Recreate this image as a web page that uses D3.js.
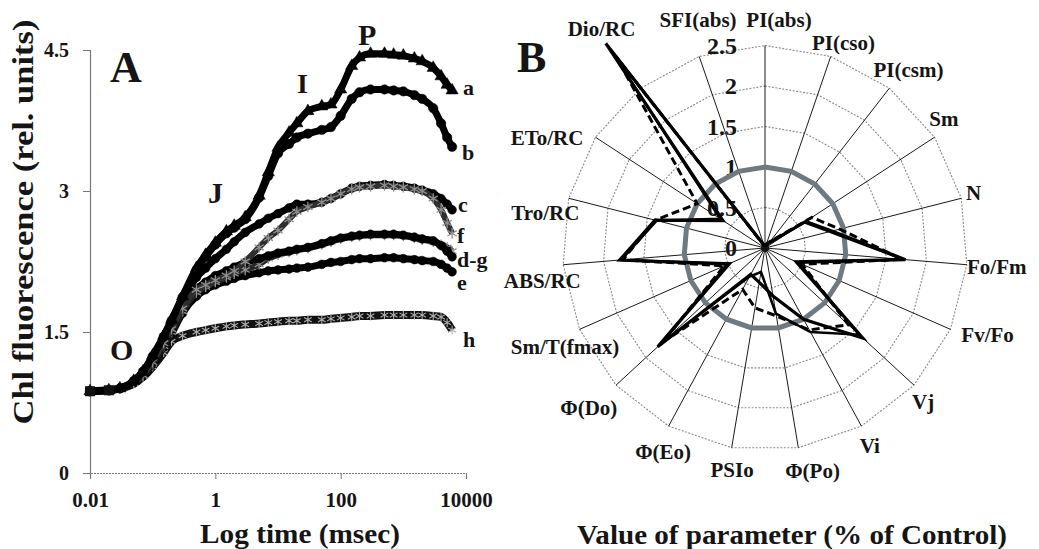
<!DOCTYPE html>
<html><head><meta charset="utf-8">
<script src="https://cdn.jsdelivr.net/npm/d3@7"></script>
</head><body style="margin:0;background:#fff">
<svg id="chart" width="1039" height="549" style="display:block;background:#fff"></svg>
<script>
// ---------- Panel A data (OJIP transients) ----------
const times = [0.01,0.02,0.03,0.05,0.07,0.1,0.15,0.2,0.3,0.5,0.7,1,1.5,2,3,5,7,10,15,20,30,50,70,100,150,200,300,500,700,1000,1500,2000,3000,4000,5000,6000];
const curveA = [0.87,0.88,0.90,0.98,1.08,1.25,1.46,1.63,1.88,2.18,2.32,2.45,2.57,2.63,2.72,2.95,3.20,3.46,3.62,3.72,3.85,3.90,3.92,4.08,4.33,4.42,4.46,4.46,4.45,4.44,4.41,4.38,4.31,4.22,4.13,4.07];
const curveB = [0.87,0.88,0.90,0.98,1.08,1.24,1.45,1.62,1.87,2.16,2.30,2.43,2.55,2.61,2.70,2.93,3.16,3.40,3.50,3.57,3.61,3.65,3.68,3.80,3.98,4.05,4.08,4.08,4.07,4.06,4.02,3.98,3.88,3.72,3.57,3.47];
const curveC = [0.87,0.88,0.90,0.97,1.06,1.22,1.42,1.58,1.83,2.08,2.18,2.28,2.38,2.46,2.56,2.65,2.71,2.76,2.82,2.86,2.86,2.88,2.92,2.97,3.03,3.05,3.06,3.07,3.06,3.05,3.03,3.01,2.97,2.92,2.86,2.80];
const curveD = [0.87,0.88,0.90,0.96,1.04,1.18,1.38,1.53,1.76,1.96,2.03,2.10,2.15,2.19,2.24,2.28,2.31,2.34,2.36,2.38,2.40,2.44,2.47,2.50,2.52,2.53,2.54,2.54,2.54,2.53,2.51,2.49,2.47,2.42,2.36,2.30];
const curveE = [0.87,0.88,0.90,0.96,1.03,1.16,1.34,1.48,1.70,1.88,1.95,2.00,2.04,2.07,2.10,2.13,2.15,2.16,2.17,2.18,2.19,2.22,2.24,2.25,2.27,2.28,2.28,2.29,2.29,2.28,2.27,2.26,2.25,2.22,2.18,2.14];
const curveF = [0.87,0.88,0.90,0.96,1.04,1.18,1.38,1.53,1.75,1.95,2.00,2.05,2.10,2.15,2.25,2.40,2.50,2.58,2.70,2.78,2.83,2.88,2.92,2.97,3.02,3.04,3.05,3.06,3.05,3.04,3.02,3.00,2.92,2.80,2.66,2.55];
const curveG = [0.87,0.88,0.90,0.96,1.03,1.16,1.35,1.50,1.72,1.92,1.98,2.03,2.08,2.12,2.16,2.22,2.28,2.32,2.35,2.37,2.39,2.43,2.46,2.49,2.51,2.52,2.53,2.53,2.53,2.52,2.50,2.48,2.46,2.43,2.40,2.36];
const curveH = [0.87,0.88,0.90,0.95,1.02,1.13,1.28,1.40,1.46,1.50,1.52,1.54,1.56,1.57,1.58,1.59,1.60,1.61,1.62,1.62,1.63,1.63,1.64,1.65,1.66,1.67,1.67,1.68,1.68,1.68,1.68,1.68,1.67,1.66,1.60,1.52];
const yTicksA = [0, 1.5, 3, 4.5];
const xTicksA = [0.01, 1, 100, 10000];
const xTickLabelsA = ["0.01", "1", "100", "10000"];

// ---------- Panel B data (radar, ratio to control) ----------
const radarCategories = ["PI(abs)","PI(cso)","PI(csm)","Sm","N","Fo/Fm","Fv/Fo","Vj","Vi","\u03A6(Po)","PSIo","\u03A6(Eo)","\u03A6(Do)","Sm/T(fmax)","ABS/RC","Tro/RC","ETo/RC","Dio/RC","SFI(abs)"];
const radarTicks = [0, 0.5, 1, 1.5, 2, 2.5];
const radarTickLabels = ["0", "0.5", "1", "1.5", "2", "2.5"];
const controlValues = [1,1,1,1,1,1,1,1,1,1,1,1,1,1,1,1,1,1,1];
const seriesSolid1 = [0.03,0.04,0.08,0.60,0.85,1.74,0.42,1.64,1.00,0.60,0.43,0.37,1.80,0.50,1.80,1.40,0.62,3.20,0.04];
const seriesSolid2 = [0.03,0.04,0.07,0.58,0.82,1.72,0.45,1.58,1.18,0.82,0.30,0.40,1.76,0.47,1.78,1.38,0.66,3.12,0.03];
const seriesDashed = [0.03,0.05,0.10,0.69,0.95,1.70,0.50,1.40,1.15,0.85,0.75,0.58,1.72,0.55,1.76,1.40,1.00,3.00,0.03];

const svg = d3.select("#chart");
// helper: serif bold text
function serif(sel, size){
  return sel.attr("font-family","Liberation Serif").style("font-family","Liberation Serif")
    .style("font-weight","bold").attr("font-weight","bold").style("font-size", size+"px").attr("fill","#151515");
}

// ================= PANEL A =================
const x = d3.scaleLog().domain([0.01, 10000]).range([90, 466]);
const y = d3.scaleLinear().domain([0, 4.5]).range([473, 50]);
const gA = svg.append("g");

// axes
const yAxis = d3.axisLeft(y).tickValues(yTicksA).tickSize(7).tickFormat(d3.format("~g"));
const yg = gA.append("g").attr("transform","translate(90,0)").call(yAxis).attr("font-family","Liberation Serif");
yg.select(".domain").attr("stroke","#777").attr("stroke-width",1.2);
yg.selectAll(".tick line").attr("stroke","#777");
serif(yg.selectAll(".tick text").attr("x",-21).attr("dy","0.34em"), 20);

const xAxis = d3.axisBottom(x).tickValues(xTicksA).tickSize(6).tickFormat((d,i)=>xTickLabelsA[i]);
const xg = gA.append("g").attr("transform","translate(0,473)").call(xAxis).attr("font-family","Liberation Serif");
xg.select(".domain").attr("stroke","#777").attr("stroke-width",1.2).attr("stroke-dasharray","2,1");
xg.selectAll(".tick line").attr("stroke","#777");
serif(xg.selectAll(".tick text").attr("y",19).attr("dy","0.71em"), 21);

// titles
serif(gA.append("text"), 27).attr("x",300).attr("y",543).attr("text-anchor","middle")
  .attr("textLength",200).attr("lengthAdjust","spacingAndGlyphs").text("Log time (msec)");
serif(gA.append("text"), 29).attr("transform","translate(33,222) rotate(-90)").attr("text-anchor","middle")
  .attr("textLength",405).attr("lengthAdjust","spacingAndGlyphs").text("Chl fluorescence (rel. units)");

// curves
const line = d3.line().x((d,i)=>x(times[i])).y(d=>y(d)).curve(d3.curveMonotoneX);
const curves = [
  {v: curveH, stroke:"#111", w:8, sym:d3.symbolAsterisk, fill:"none", mstroke:"#b0b0b0", size:55, mw:1.1},
  {v: curveE, stroke:"#000", w:7, sym:d3.symbolCircle, fill:"#000", mstroke:"#000", size:60, mw:0.5},
  {v: curveG, stroke:"#262626", w:6, sym:d3.symbolAsterisk, fill:"none", mstroke:"#8f8f8f", size:75, mw:1.3},
  {v: curveD, stroke:"#000", w:7, sym:d3.symbolCircle, fill:"#000", mstroke:"#000", size:60, mw:0.5},
  {v: curveC, stroke:"#000", w:7, sym:d3.symbolCircle, fill:"#000", mstroke:"#000", size:60, mw:0.5},
  {v: curveF, stroke:"#2e2e2e", w:6, sym:d3.symbolAsterisk, fill:"none", mstroke:"#8f8f8f", size:80, mw:1.3},
  {v: curveB, stroke:"#000", w:7, sym:d3.symbolCircle, fill:"#000", mstroke:"#000", size:70, mw:0.5},
  {v: curveA, stroke:"#000", w:7, sym:d3.symbolTriangle, fill:"#000", mstroke:"#000", size:65, mw:0.5}
];
curves.forEach(c=>{
  gA.append("path").attr("d", line(c.v)).attr("fill","none")
    .attr("stroke", c.stroke).attr("stroke-width", c.w).attr("stroke-linejoin","round");
  gA.selectAll(null).data(c.v).join("path")
    .attr("transform",(d,i)=>`translate(${x(times[i])},${y(d)})`)
    .attr("d", d3.symbol().type(c.sym).size(c.size))
    .attr("fill", c.fill).attr("stroke", c.mstroke).attr("stroke-width", c.mw);
});
// first points appear as squares (all markers overlapping)
gA.selectAll(null).data([0,1]).join("rect")
  .attr("x",i=>x(times[i])-5).attr("y",i=>y(curveA[i])-5).attr("width",10).attr("height",10).attr("fill","#111");

// curve labels
const curveLabels = [["a",463,95],["b",462,160],["c",458,212],["f",457,243],["d-g",457,267],["e",457,290],["h",463,347]];
curveLabels.forEach(d=>serif(gA.append("text"),22).attr("x",d[1]).attr("y",d[2]).text(d[0]));
// phase labels and panel letter
serif(gA.append("text"),44).attr("x",110).attr("y",82).text("A");
const phase = [["O",110,360,30],["J",208,203,30],["I",297,93,28],["P",358,45,30]];
phase.forEach(d=>serif(gA.append("text"),d[3]).attr("x",d[1]).attr("y",d[2]).text(d[0]));

// ================= PANEL B =================
const cx = 765, cy = 248;
const r = d3.scaleLinear().domain([0, 2.5]).range([0, 202.5]);
const n = radarCategories.length;
const ang = i => i * 2 * Math.PI / n;
const gB = svg.append("g").attr("transform",`translate(${cx},${cy})`);
const radial = d3.lineRadial().angle((d,i)=>ang(i)).radius(d=>r(d)).curve(d3.curveLinearClosed);

// gridline polygons
radarTicks.filter(t=>t>0).forEach(t=>{
  gB.append("path").attr("d", radial(radarCategories.map(()=>t)))
    .attr("fill","none").attr("stroke","#8a8a8a").attr("stroke-width",1.1).attr("stroke-dasharray","2,1.5");
});
// spokes
gB.selectAll(null).data(radarCategories).join("line")
  .attr("x1",0).attr("y1",0)
  .attr("x2",(d,i)=>r(2.5)*Math.sin(ang(i))).attr("y2",(d,i)=>-r(2.5)*Math.cos(ang(i)))
  .attr("stroke","#1a1a1a").attr("stroke-width",1);
gB.append("circle").attr("r",4).attr("fill","#111");

// radial tick labels
radarTicks.forEach((t,i)=>serif(gB.append("text"),24).attr("x",-28).attr("y",-r(t)).attr("dy","0.34em")
  .attr("text-anchor","end").text(radarTickLabels[i]));

// control
gB.append("path").attr("d", radial(controlValues)).attr("fill","none")
  .attr("stroke","#6f797f").attr("stroke-width",5);
// treatment series
gB.append("path").attr("d", radial(seriesSolid2)).attr("fill","none")
  .attr("stroke","#000").attr("stroke-width",2.5).attr("stroke-linejoin","miter");
gB.append("path").attr("d", radial(seriesDashed)).attr("fill","none")
  .attr("stroke","#000").attr("stroke-width",3).attr("stroke-dasharray","8,4");
gB.append("path").attr("d", radial(seriesSolid1)).attr("fill","none")
  .attr("stroke","#000").attr("stroke-width",3.2).attr("stroke-linejoin","miter");

// category labels
const labelNudge = [[14,-3.5],[5.6,7.3],[5.6,-0.8],[-9,-6],[-9,0],[8,0],[17,-3],[-7,2],[-2,0],[10.6,1.6],[4,0.6],[5,6.6],[-11,8],[5.6,8.8],[1,14.5],[-2,20],[-30,13],[-25.6,-41.8],[6,-15.7]];
radarCategories.forEach((d,i)=>serif(gB.append("text"),21)
  .attr("x",(r(2.5)+22)*Math.sin(ang(i)) + labelNudge[i][0])
  .attr("y",-(r(2.5)+22)*Math.cos(ang(i)) + labelNudge[i][1])
  .attr("dy","0.34em").attr("text-anchor","middle").text(d));

serif(svg.append("text"),44).attr("x",517).attr("y",72).text("B");
serif(svg.append("text"),27).attr("x",792).attr("y",544).attr("text-anchor","middle")
  .attr("textLength",430).attr("lengthAdjust","spacingAndGlyphs").text("Value of parameter (% of Control)");
</script>
</body></html>
